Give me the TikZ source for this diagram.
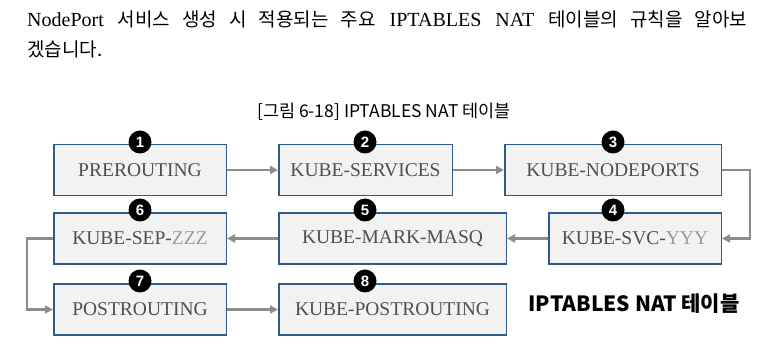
\documentclass[tikz,border=0pt]{standalone}
\usepackage{fontspec}
\setmainfont{Liberation Serif}
\newfontfamily\kr{Noto Sans CJK KR}
\newfontfamily\badgefont{Liberation Sans}
\usetikzlibrary{arrows.meta}
\definecolor{boxfill}{HTML}{F2F2F2}
\definecolor{boxline}{HTML}{2E5C8A}
\definecolor{arrowgray}{HTML}{8C8C8C}
\definecolor{txtgray}{HTML}{4F4F4F}
\definecolor{idgray}{HTML}{9A9A9A}
\newcommand\K[1]{{\kr\fontsize{19}{19}\selectfont #1}}
\begin{document}
\begin{tikzpicture}[x=1pt,y=-1pt,
  chainbox/.style={draw=boxline,fill=boxfill,line width=1.5pt,inner sep=0pt,
    minimum height=51pt,text=txtgray,font=\fontsize{19.5}{20}\selectfont},
  badge/.style={circle,fill=black,inner sep=0pt,minimum size=23pt,text=white,
    font=\badgefont\bfseries\fontsize{15}{15}\selectfont},
  flow/.style={draw=arrowgray,line width=2.5pt,-{Triangle[length=8pt,width=8pt]}},
]
\useasboundingbox (0,0) rectangle (772,352);

% paragraph
\node[anchor=base west,inner sep=0pt,font=\fontsize{20}{20}\selectfont] (p1) at (27,26.7)
  {\makebox[720pt][s]{NodePort \K{서비스 생성 시 적용되는 주요} IPTABLES NAT \K{테이블의 규칙을 알아보}}};
\node[anchor=base west,inner sep=0pt,font=\fontsize{20}{20}\selectfont] (p2) at (27,57)
  {\K{겠습니다.}};

% caption
\node[font=\kr\fontsize{17.5}{17.5}\selectfont] (cap) at (384,112) {[그림 6-18] IPTABLES NAT 테이블};

% boxes
\node[chainbox,minimum width=172.5pt] (pre) at (140,170) {PREROUTING};
\node[chainbox,minimum width=173.5pt] (svcs) at (365.5,170) {KUBE-SERVICES};
\node[chainbox,minimum width=216.5pt] (np) at (613,170) {KUBE-NODEPORTS};
\node[chainbox,minimum width=172.5pt] (svc) at (635,238.5) {KUBE-SVC-\textcolor{idgray}{YYY}};
\node[chainbox,minimum width=227.5pt] (mark) at (392.5,238.5) {KUBE-MARK-MASQ};
\node[chainbox,minimum width=172.5pt] (sep) at (140,238.5) {KUBE-SEP-\textcolor{idgray}{ZZZ}};
\node[chainbox,minimum width=172.5pt] (post) at (140,309.5) {POSTROUTING};
\node[chainbox,minimum width=227.5pt] (kpost) at (392.5,309.5) {KUBE-POSTROUTING};

% connectors
\draw[flow] (pre.east) -- (svcs.west);
\draw[flow] (svcs.east) -- (np.west);
\draw[flow] (np.east) -- ++(28,0) |- (svc.east);
\draw[flow] (svc.west) -- (mark.east);
\draw[flow] (mark.west) -- (sep.east);
\draw[flow] (sep.west) -- ++(-26,0) |- (post.west);
\draw[flow] (post.east) -- (kpost.west);

% badges
\node[badge] (b1) at (140,142) {1};
\node[badge] (b2) at (365,142) {2};
\node[badge] (b3) at (613,142) {3};
\node[badge] (b4) at (613,210) {4};
\node[badge] (b5) at (365,210) {5};
\node[badge] (b6) at (140,210) {6};
\node[badge] (b7) at (140,281) {7};
\node[badge] (b8) at (365,281) {8};

% label
\node[font=\kr\bfseries\fontsize{21}{21}\selectfont] (lbl) at (634,304) {IPTABLES NAT 테이블};
\end{tikzpicture}
\end{document}
